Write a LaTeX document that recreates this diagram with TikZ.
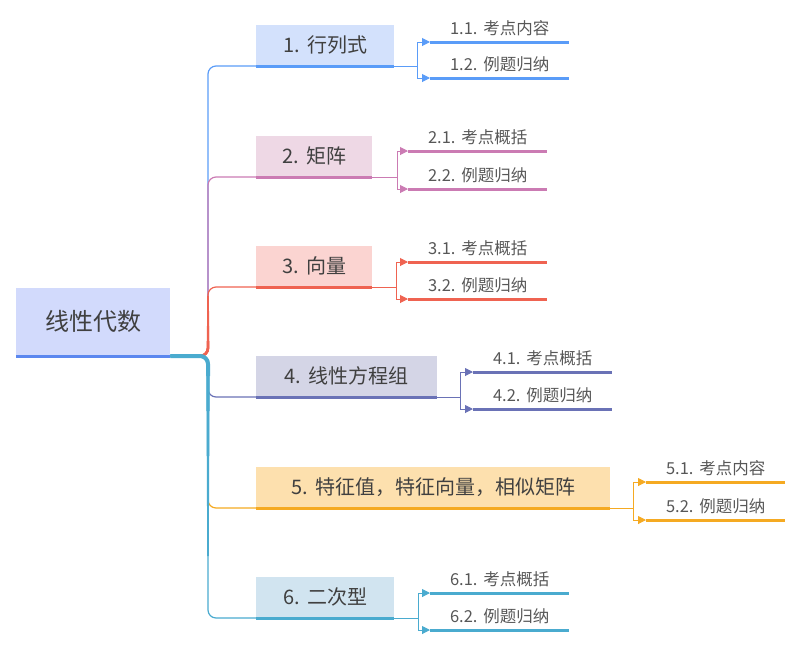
\documentclass[tikz,border=0pt]{standalone}
\usepackage{fontspec}
\setmainfont{Noto Sans CJK SC}
\usetikzlibrary{positioning, arrows.meta}

\definecolor{textgray}{HTML}{404040}
\definecolor{leafgray}{HTML}{575757}
\definecolor{rootfill}{HTML}{D2DAFC}
\definecolor{rootline}{HTML}{5B87EF}
\definecolor{bafill}{HTML}{D3E1FC} \definecolor{baline}{HTML}{5A9CF8}
\definecolor{bbfill}{HTML}{EED8E5} \definecolor{bbline}{HTML}{CB7BB3}
\definecolor{bcfill}{HTML}{FBD4D1} \definecolor{bcline}{HTML}{EF6351}
\definecolor{bdfill}{HTML}{D4D5E6} \definecolor{bdline}{HTML}{6A72B6}
\definecolor{befill}{HTML}{FDE0AE} \definecolor{beline}{HTML}{F5AA22}
\definecolor{bffill}{HTML}{D1E4F0} \definecolor{bfline}{HTML}{4AABCF}

\newcommand{\num}[1]{#1\hspace{0.35em}}

\tikzset{
  rootbox/.style={fill=rootfill, inner sep=0pt, text=textgray, anchor=south west,
    font=\fontsize{24}{28}\selectfont, minimum width=154pt, minimum height=68pt},
  topic/.style={fill=#1fill, inner sep=0pt, text=textgray, anchor=south west,
    font=\fontsize{20}{24}\selectfont, minimum height=41pt},
  leaf/.style={inner sep=0pt, text=leafgray, anchor=south west,
    font=\fontsize{16.5}{19}\selectfont, minimum width=139pt, minimum height=28pt},
  uline/.style={line width=3pt, #1},
  link/.style={line width=1.2pt, #1, rounded corners=8pt},
  fork/.style={line width=1pt, #1, -{Triangle[length=8pt,width=8pt]}},
}

\begin{document}
\begin{tikzpicture}[x=1pt, y=-1pt]
  \useasboundingbox (0,0) rectangle (800,646);

  % root
  \node[rootbox] (root) at (16,356) {线性代数};
  \coordinate (trunk) at (208,356);

  % main topics
  \node[topic=ba, minimum width=138pt] (det) at (256,66) {\num{1.}行列式};
  \node[topic=bb, minimum width=116pt] (mat) at (256,177) {\num{2.}矩阵};
  \node[topic=bc, minimum width=116pt] (vec) at (256,287) {\num{3.}向量};
  \node[topic=bd, minimum width=181pt] (equ) at (256,397) {\num{4.}线性方程组};
  \node[topic=be, minimum width=354pt] (eig) at (256,508) {\num{5.}特征值，特征向量，相似矩阵};
  \node[topic=bf, minimum width=138pt] (quad) at (256,618) {\num{6.}二次型};

  % sub topics
  \node[leaf] (det1) at (430,42) {\num{1.1.}考点内容};
  \node[leaf] (det2) at (430,78) {\num{1.2.}例题归纳};
  \node[leaf] (mat1) at (408,151) {\num{2.1.}考点概括};
  \node[leaf] (mat2) at (408,189) {\num{2.2.}例题归纳};
  \node[leaf] (vec1) at (408,262) {\num{3.1.}考点概括};
  \node[leaf] (vec2) at (408,299) {\num{3.2.}例题归纳};
  \node[leaf] (equ1) at (473,372) {\num{4.1.}考点概括};
  \node[leaf] (equ2) at (473,409) {\num{4.2.}例题归纳};
  \node[leaf] (eig1) at (646,482) {\num{5.1.}考点内容};
  \node[leaf] (eig2) at (646,520) {\num{5.2.}例题归纳};
  \node[leaf] (quad1) at (430,593) {\num{6.1.}考点概括};
  \node[leaf] (quad2) at (430,630) {\num{6.2.}例题归纳};

  % links from the root
  \draw[link=baline] (root.south east) -- (trunk) |- (det.south west);
  \draw[link=bbline] (root.south east) -- (trunk) |- (mat.south west);
  \draw[link=bcline] (root.south east) -- (trunk) |- (vec.south west);
  \draw[link=bdline] (root.south east) -- (trunk) |- (equ.south west);
  \draw[link=beline] (root.south east) -- (trunk) |- (eig.south west);
  \draw[link=bfline] (root.south east) -- (trunk) |- (quad.south west);
  % thicker near the root
  \foreach \w/\l in {1.6/60, 2.0/45, 2.4/30, 2.8/15}
    \draw[line width=\w pt, bcline, rounded corners=8pt] ([xshift=-14pt]trunk) -- (trunk) -- ++(0,-\l);
  \foreach \w/\l in {1.6/200, 2.2/150, 2.8/100, 3.4/55, 4/20}
    \draw[line width=\w pt, bfline, rounded corners=8pt] (root.south east) -- (trunk) -- ++(0,\l);

  % underlines
  \draw[uline=rootline] (root.south west) -- (root.south east);
  \draw[uline=baline] (det.south west) -- (det.south east);
  \draw[uline=bbline] (mat.south west) -- (mat.south east);
  \draw[uline=bcline] (vec.south west) -- (vec.south east);
  \draw[uline=bdline] (equ.south west) -- (equ.south east);
  \draw[uline=beline] (eig.south west) -- (eig.south east);
  \draw[uline=bfline] (quad.south west) -- (quad.south east);
  \draw[uline=baline] (det1.south west) -- (det1.south east);
  \draw[uline=baline] (det2.south west) -- (det2.south east);
  \draw[uline=bbline] (mat1.south west) -- (mat1.south east);
  \draw[uline=bbline] (mat2.south west) -- (mat2.south east);
  \draw[uline=bcline] (vec1.south west) -- (vec1.south east);
  \draw[uline=bcline] (vec2.south west) -- (vec2.south east);
  \draw[uline=bdline] (equ1.south west) -- (equ1.south east);
  \draw[uline=bdline] (equ2.south west) -- (equ2.south east);
  \draw[uline=beline] (eig1.south west) -- (eig1.south east);
  \draw[uline=beline] (eig2.south west) -- (eig2.south east);
  \draw[uline=bfline] (quad1.south west) -- (quad1.south east);
  \draw[uline=bfline] (quad2.south west) -- (quad2.south east);

  % forks to the sub topics
  \draw[fork=baline] (det.south east) -- ++(23,0) |- (det1.south west);
  \draw[fork=baline] (det.south east) -- ++(23,0) |- (det2.south west);
  \draw[fork=bbline] (mat.south east) -- ++(25,0) |- (mat1.south west);
  \draw[fork=bbline] (mat.south east) -- ++(25,0) |- (mat2.south west);
  \draw[fork=bcline] (vec.south east) -- ++(24,0) |- (vec1.south west);
  \draw[fork=bcline] (vec.south east) -- ++(24,0) |- (vec2.south west);
  \draw[fork=bdline] (equ.south east) -- ++(23,0) |- (equ1.south west);
  \draw[fork=bdline] (equ.south east) -- ++(23,0) |- (equ2.south west);
  \draw[fork=beline] (eig.south east) -- ++(23,0) |- (eig1.south west);
  \draw[fork=beline] (eig.south east) -- ++(23,0) |- (eig2.south west);
  \draw[fork=bfline] (quad.south east) -- ++(24,0) |- (quad1.south west);
  \draw[fork=bfline] (quad.south east) -- ++(24,0) |- (quad2.south west);
\end{tikzpicture}
\end{document}
